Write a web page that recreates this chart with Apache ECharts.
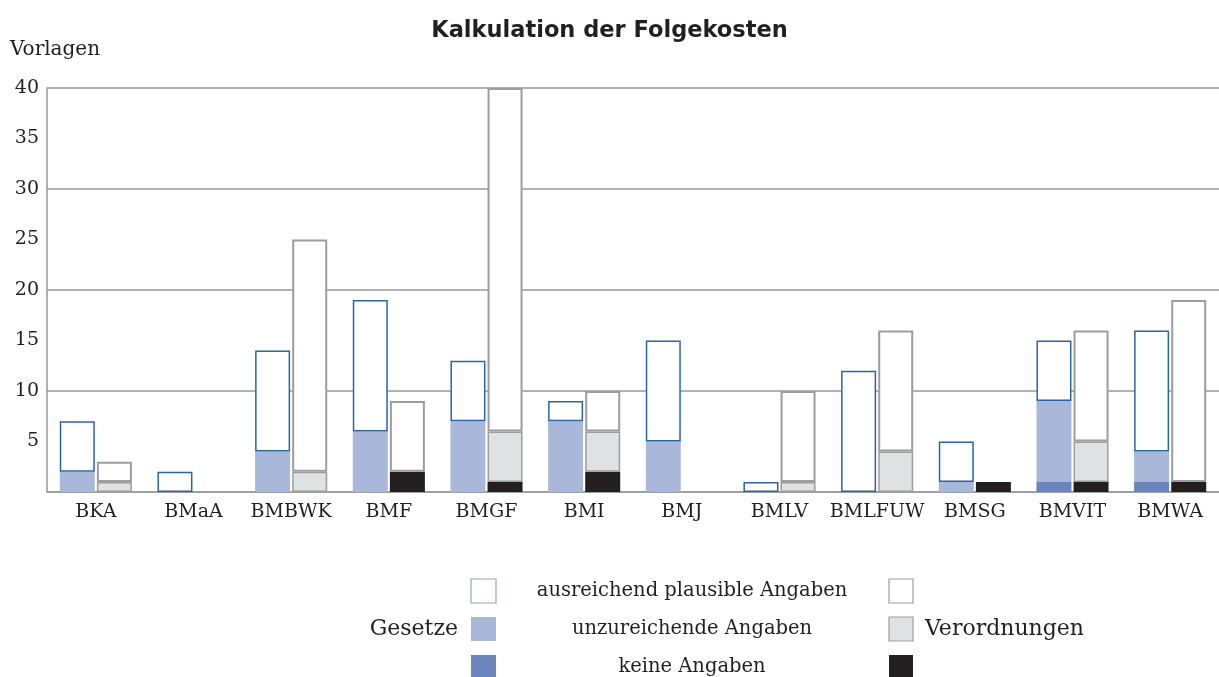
<!DOCTYPE html>
<html>
<head>
<meta charset="utf-8">
<script src="https://cdn.jsdelivr.net/npm/echarts@6/dist/echarts.min.js"></script>
<style>
  html, body { margin: 0; padding: 0; background: #fff; }
  #chart { width: 1219px; height: 677px; }
</style>
</head>
<body>
<div id="chart"></div>
<script>
// Ministerien
const categories = ['BKA', 'BMaA', 'BMBWK', 'BMF', 'BMGF', 'BMI', 'BMJ', 'BMLV', 'BMLFUW', 'BMSG', 'BMVIT', 'BMWA'];
// Gesetze
const gesetzeKeine = [null, null, null, null, null, null, null, null, null, null, 1, 1];
const gesetzeUnzureichend = [2, null, 4, 6, 7, 7, 5, null, null, 1, 8, 3];
const gesetzeAusreichend = [5, 2, 10, 13, 6, 2, 10, 1, 12, 4, 6, 12];
// Verordnungen
const verordnungenKeine = [null, null, null, 2, 1, 2, null, null, null, 1, 1, 1];
const verordnungenUnzureichend = [1, null, 2, null, 5, 4, null, 1, 4, null, 4, null];
const verordnungenAusreichend = [2, null, 23, 7, 34, 4, null, 9, 12, null, 11, 18];
// Legende
const legendLabels = ['ausreichend plausible Angaben', 'unzureichende Angaben', 'keine Angaben'];

const serif = 'DejaVu Serif';
const textColor = '#231f20';
const blueBorder = '#2a65a3';
const grayBorder = '#9d9d9d';

const chart = echarts.init(document.getElementById('chart'));

function bar (name, stack, data, color, borderColor, borderWidth) {
  return {
    name: name,
    type: 'bar',
    stack: stack,
    data: data,
    barWidth: 35,
    barGap: '6%',
    yAxisIndex: 0,
    itemStyle: {
      color: color,
      borderColor: borderColor,
      borderWidth: borderWidth
    }
  };
}

// Legende als Grafik
const legendItems = [];
const rowY = [579, 617, 655];
const blueSwatches = [
  { fill: '#ffffff', stroke: '#8ea6cf' },
  { fill: '#a9b8d8', stroke: null },
  { fill: '#6a85bb', stroke: null }
];
const graySwatches = [
  { fill: '#ffffff', stroke: '#9d9d9d' },
  { fill: '#e0e1e3', stroke: '#9d9d9d' },
  { fill: '#231f20', stroke: null }
];
rowY.forEach((y, i) => {
  legendItems.push({
    type: 'rect',
    shape: { x: 471, y: y, width: 25, height: 24 },
    style: { fill: blueSwatches[i].fill, stroke: blueSwatches[i].stroke, lineWidth: 1.2 }
  });
  legendItems.push({
    type: 'rect',
    shape: { x: 889, y: y, width: 24, height: 24 },
    style: { fill: graySwatches[i].fill, stroke: graySwatches[i].stroke, lineWidth: 1.2 }
  });
  legendItems.push({
    type: 'text',
    x: 692,
    y: y + 12,
    style: {
      text: legendLabels[i],
      font: '19.5px "' + serif + '"',
      fill: textColor,
      align: 'center',
      verticalAlign: 'middle'
    }
  });
});
legendItems.push({
  type: 'text',
  x: 458,
  y: 629,
  style: { text: 'Gesetze', font: '22px "' + serif + '"', fill: textColor, align: 'right', verticalAlign: 'middle' }
});
legendItems.push({
  type: 'text',
  x: 925,
  y: 629,
  style: { text: 'Verordnungen', font: '22px "' + serif + '"', fill: textColor, align: 'left', verticalAlign: 'middle' }
});
legendItems.push({
  type: 'text',
  x: 10,
  y: 50,
  style: { text: 'Vorlagen', font: '20px "' + serif + '"', fill: textColor, align: 'left', verticalAlign: 'middle' }
});

const option = {
  animation: false,
  backgroundColor: '#ffffff',
  title: {
    text: 'Kalkulation der Folgekosten',
    left: 'center',
    top: 15,
    textStyle: {
      fontFamily: 'DejaVu Sans',
      fontWeight: 'bold',
      fontSize: 22.5,
      color: textColor
    }
  },
  grid: {
    left: 47,
    right: 0,
    top: 88,
    bottom: 185
  },
  xAxis: {
    type: 'category',
    data: categories,
    axisTick: { show: false },
    axisLine: { lineStyle: { color: '#999', width: 1.5 } },
    axisLabel: {
      fontFamily: serif,
      fontSize: 19,
      color: textColor,
      margin: 11,
      interval: 0
    }
  },
  yAxis: [
    {
      type: 'value',
      min: 0,
      max: 40,
      interval: 5,
      axisLine: { show: true, lineStyle: { color: '#999', width: 1.5 } },
      axisTick: { show: false },
      splitLine: { show: false },
      axisLabel: {
        fontFamily: serif,
        fontSize: 19,
        color: textColor,
        margin: 8,
        formatter: function (v) { return v === 0 ? '' : v; }
      }
    },
    {
      type: 'value',
      position: 'left',
      min: 0,
      max: 40,
      interval: 10,
      axisLine: { show: false },
      axisTick: { show: false },
      axisLabel: { show: false },
      splitLine: { show: true, lineStyle: { color: '#999', width: 1.5 } }
    }
  ],
  series: [
    bar('G keine Angaben', 'G', gesetzeKeine, '#6a85bb', null, 0),
    bar('G unzureichende Angaben', 'G', gesetzeUnzureichend, '#a9b8d8', null, 0),
    bar('G ausreichend plausible Angaben', 'G', gesetzeAusreichend, '#ffffff', blueBorder, 1.5),
    bar('V keine Angaben', 'V', verordnungenKeine, '#231f20', null, 0),
    bar('V unzureichende Angaben', 'V', verordnungenUnzureichend, '#e0e1e3', grayBorder, 1.5),
    bar('V ausreichend plausible Angaben', 'V', verordnungenAusreichend, '#ffffff', grayBorder, 2)
  ],
  graphic: legendItems
};

chart.setOption(option);
window.onresize = chart.resize;
</script>
</body>
</html>
